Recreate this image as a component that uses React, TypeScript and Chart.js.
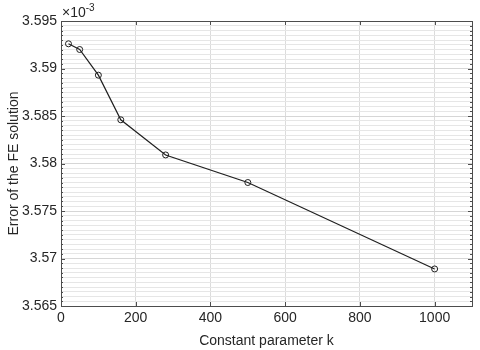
import React, { useEffect, useRef } from "react";
import { Chart, registerables } from "chart.js";

Chart.register(...registerables);

const kValues = [20, 50, 100, 160, 280, 500, 1000];
const errorValues = [3.5926, 3.5920, 3.5893, 3.5846, 3.5809, 3.5780, 3.5689];
const xTickValues = [0, 200, 400, 600, 800, 1000];
const yTickLabels = ["3.565", "3.57", "3.575", "3.58", "3.585", "3.59", "3.595"];
const xTitle = "Constant parameter k";
const yTitle = "Error of the FE solution";
const exponentBase = "\u00d710";
const exponentPower = "-3";

const FONT = "Arial, 'Liberation Sans', Helvetica, sans-serif";
const TEXT = "#262626";

const boxPlugin = {
  id: "matlabBox",
  afterDraw(chart: any) {
    const { ctx, chartArea } = chart;
    const { left, right, top, bottom } = chartArea;
    const xs = chart.scales.x;
    const ys = chart.scales.y;
    ctx.save();
    ctx.strokeStyle = "#4d4d4d";
    ctx.lineWidth = 1;
    ctx.strokeRect(Math.round(left) + 0.5, Math.round(top) + 0.5, Math.round(right - left), Math.round(bottom - top));
    ctx.beginPath();
    xTickValues.forEach((v) => {
      const px = Math.round(xs.getPixelForValue(v)) + 0.5;
      ctx.moveTo(px, bottom);
      ctx.lineTo(px, bottom - 4);
      ctx.moveTo(px, top);
      ctx.lineTo(px, top + 4);
    });
    for (let i = 0; i <= 60; i++) {
      const v = 3.565 + i * 0.0005;
      const py = Math.round(ys.getPixelForValue(v)) + 0.5;
      const len = i % 10 === 0 ? 4 : 2;
      ctx.moveTo(left, py);
      ctx.lineTo(left + len, py);
      ctx.moveTo(right, py);
      ctx.lineTo(right - len, py);
    }
    ctx.stroke();
    ctx.fillStyle = TEXT;
    ctx.textBaseline = "alphabetic";
    ctx.textAlign = "left";
    ctx.font = `14px ${FONT}`;
    ctx.fillText(exponentBase, left + 1, top - 4);
    const w = ctx.measureText(exponentBase).width;
    ctx.font = `10px ${FONT}`;
    ctx.fillText(exponentPower, left + 1 + w, top - 10);
    ctx.restore();
  },
};

export default function App() {
  const canvasRef = useRef<HTMLCanvasElement | null>(null);

  useEffect(() => {
    if (!canvasRef.current) return;
    const chart = new Chart(canvasRef.current, {
      type: "line",
      data: {
        datasets: [
          {
            data: kValues.map((k, i) => ({ x: k, y: errorValues[i] })),
            borderColor: "#1f1f1f",
            borderWidth: 1.2,
            pointRadius: 3,
            pointBorderWidth: 1,
            pointBackgroundColor: "rgba(0,0,0,0)",
            pointBorderColor: "#1f1f1f",
            tension: 0,
          },
        ],
      },
      plugins: [boxPlugin],
      options: {
        animation: false,
        responsive: false,
        maintainAspectRatio: false,
        layout: { padding: { top: 21, right: 8, left: 0, bottom: 0 } },
        plugins: { legend: { display: false }, tooltip: { enabled: false } },
        scales: {
          x: {
            type: "linear",
            min: 0,
            max: 1100,
            afterBuildTicks: (scale: any) => {
              scale.ticks = xTickValues.map((v) => ({ value: v }));
            },
            afterFit: (scale: any) => {
              scale.height = 44;
            },
            ticks: {
              color: TEXT,
              font: { size: 14, family: FONT },
              padding: 4,
              maxRotation: 0,
              callback: (v: any) => String(v),
            },
            grid: { color: "#dcdcdc", drawTicks: false, lineWidth: 1 },
            border: { display: false },
            title: {
              display: true,
              text: xTitle,
              color: TEXT,
              font: { size: 14, family: FONT },
              padding: { top: 1, bottom: 0 },
            },
          },
          y: {
            type: "linear",
            min: 3.565,
            max: 3.595,
            afterBuildTicks: (scale: any) => {
              const t: any[] = [];
              for (let i = 0; i <= 60; i++) t.push({ value: 3.565 + i * 0.0005, major: i % 10 === 0 });
              scale.ticks = t;
            },
            afterFit: (scale: any) => {
              scale.width = 61;
            },
            ticks: {
              color: TEXT,
              font: { size: 14, family: FONT },
              padding: 4,
              autoSkip: false,
              callback: (_v: any, i: number) => (i % 10 === 0 ? yTickLabels[i / 10] : ""),
            },
            grid: {
              drawTicks: false,
              lineWidth: 1,
              color: (ctx: any) => (ctx.index % 10 === 0 ? "#d6d6d6" : "#e6e6e6"),
            },
            border: { display: false },
            title: {
              display: true,
              text: yTitle,
              color: TEXT,
              font: { size: 14, family: FONT },
              padding: { top: 6, bottom: 0 },
            },
          },
        },
      },
    });
    return () => chart.destroy();
  }, []);

  return (
    <div style={{ position: "absolute", left: 0, top: 0, width: 480, height: 350, background: "#fff" }}>
      <canvas ref={canvasRef} width={480} height={350} style={{ width: 480, height: 350 }} />
    </div>
  );
}
